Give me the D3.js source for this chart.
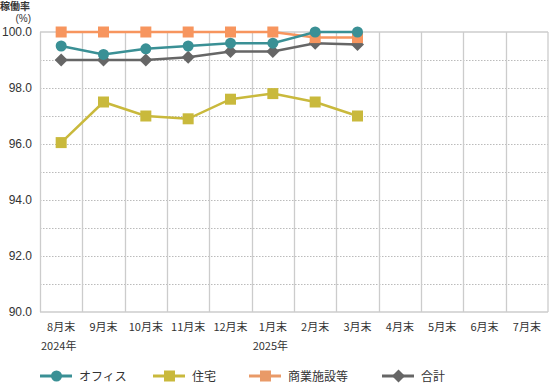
<!DOCTYPE html>
<html><head><meta charset="utf-8">
<script src="https://cdn.jsdelivr.net/npm/d3@7/dist/d3.min.js"></script>
<style>
body{margin:0;background:#fff;}
text{font-family:"Noto Sans CJK JP","Noto Sans",sans-serif;fill:#333;}
</style></head>
<body><svg id="c" width="549" height="383"></svg>
<script>
const categories = ["8月末","9月末","10月末","11月末","12月末","1月末","2月末","3月末","4月末","5月末","6月末","7月末"];
const yearLabels = [{cat:"8月末", text:"2024年"},{cat:"1月末", text:"2025年"}];
const yTicks = [90,92,94,96,98,100];
const office = [99.5,99.2,99.4,99.5,99.6,99.6,100.0,100.0];
const residential = [96.05,97.5,97.0,96.9,97.6,97.8,97.5,97.0];
const commercial = [100.0,100.0,100.0,100.0,100.0,100.0,99.8,99.8];
const total = [99.0,99.0,99.0,99.1,99.3,99.3,99.6,99.55];
const seriesNames = ["オフィス","住宅","商業施設等","合計"];

const svg = d3.select("#c");
const L=40, R=548, T=32, B=312;
const x = d3.scaleBand().domain(categories).range([L,R]);
const y = d3.scaleLinear().domain([90,100]).range([B,T]);
const latin = '"Liberation Sans","Noto Sans CJK JP",sans-serif';

// dotted horizontal gridlines
const minor = d3.range(91,100,1);
svg.append("g").selectAll("line").data(minor).join("line")
  .attr("x1",L).attr("x2",R).attr("y1",d=>y(d)+0.5).attr("y2",d=>y(d)+0.5)
  .attr("stroke","#bbb").attr("stroke-width",1).attr("stroke-dasharray","1.5,1.5");
// vertical category lines
svg.append("g").selectAll("line").data(categories).join("line")
  .attr("x1",d=>Math.round(x(d))+0.5).attr("x2",d=>Math.round(x(d))+0.5).attr("y1",T).attr("y2",B)
  .attr("stroke","#ccc").attr("stroke-width",1.3);
svg.append("line").attr("x1",R).attr("x2",R).attr("y1",T).attr("y2",B).attr("stroke","#ccc").attr("stroke-width",1.3);
svg.append("line").attr("x1",L).attr("x2",R).attr("y1",y(100)).attr("y2",y(100)).attr("stroke","#ccc").attr("stroke-width",1.3);
svg.append("line").attr("x1",L).attr("x2",R).attr("y1",y(90)).attr("y2",y(90)).attr("stroke","#ccc").attr("stroke-width",1.3);

// y axis labels
const yAxis = d3.axisLeft(y).tickValues(yTicks).tickFormat(d3.format(".1f")).tickSize(0).tickPadding(8);
const ya = svg.append("g").attr("transform",`translate(${L},0)`).call(yAxis);
ya.select(".domain").remove();
ya.selectAll("text").attr("font-size","12px").attr("fill","#333").style("font-family",latin);

// x axis labels
const xAxis = d3.axisBottom(x).tickSize(0).tickPadding(11);
const xa = svg.append("g").attr("transform",`translate(0,${B})`).call(xAxis);
xa.select(".domain").remove();
xa.selectAll("text").attr("font-size","11px").attr("fill","#333").style("font-family",'"Noto Sans CJK JP","Noto Sans",sans-serif');

svg.selectAll(".yr").data(yearLabels).join("text").attr("class","yr")
  .attr("x",d=>x(d.cat)+1).attr("y",350).attr("font-size","11px").text(d=>d.text);

// y title
svg.append("text").attr("x",0).attr("y",9.5).attr("font-size","10px").attr("font-weight","bold").attr("fill","#444").style("font-family",latin).text("稼働率");
svg.append("text").attr("x",31).attr("y",21.5).attr("text-anchor","end").attr("font-size","10px").style("font-family",latin).text("(%)");

const series = [
  {name:seriesNames[1], data:residential, color:"#c9b93c", shape:"square"},
  {name:seriesNames[3], data:total, color:"#666666", shape:"diamond"},
  {name:seriesNames[2], data:commercial, color:"#f7955e", shape:"square"},
  {name:seriesNames[0], data:office, color:"#3a9095", shape:"circle"}
];
const cx = i=>x(categories[i])+x.bandwidth()/2;
function marker(g, shape, px, py, color){
  if(shape==="circle") g.append("circle").attr("cx",px).attr("cy",py).attr("r",5.5).attr("fill",color);
  else if(shape==="square") g.append("rect").attr("x",px-5.5).attr("y",py-5.5).attr("width",11).attr("height",11).attr("fill",color);
  else g.append("path").attr("d",`M${px},${py-6.5}L${px+6.5},${py}L${px},${py+6.5}L${px-6.5},${py}Z`).attr("fill",color);
}
const line = d3.line().x((d,i)=>cx(i)).y(d=>y(d));
series.forEach(s=>{
  const g = svg.append("g");
  g.append("path").datum(s.data).attr("d",line).attr("fill","none").attr("stroke",s.color).attr("stroke-width",2.5);
  s.data.forEach((v,i)=>marker(g,s.shape,cx(i),y(v),s.color));
});

// legend
const legend = [
  {name:seriesNames[0], color:"#3a9095", shape:"circle", x:40},
  {name:seriesNames[1], color:"#c9b93c", shape:"square", x:153},
  {name:seriesNames[2], color:"#e99a68", shape:"square", x:249},
  {name:seriesNames[3], color:"#666666", shape:"diamond", x:382}
];
legend.forEach(l=>{
  const g = svg.append("g");
  const ly = 376;
  g.append("line").attr("x1",l.x).attr("x2",l.x+32).attr("y1",ly).attr("y2",ly).attr("stroke",l.color).attr("stroke-width",3);
  marker(g,l.shape,l.x+16.5,ly,l.color);
  g.append("text").attr("x",l.x+39).attr("y",ly+4.5).attr("font-size","12px").text(l.name);
});
</script></body></html>
